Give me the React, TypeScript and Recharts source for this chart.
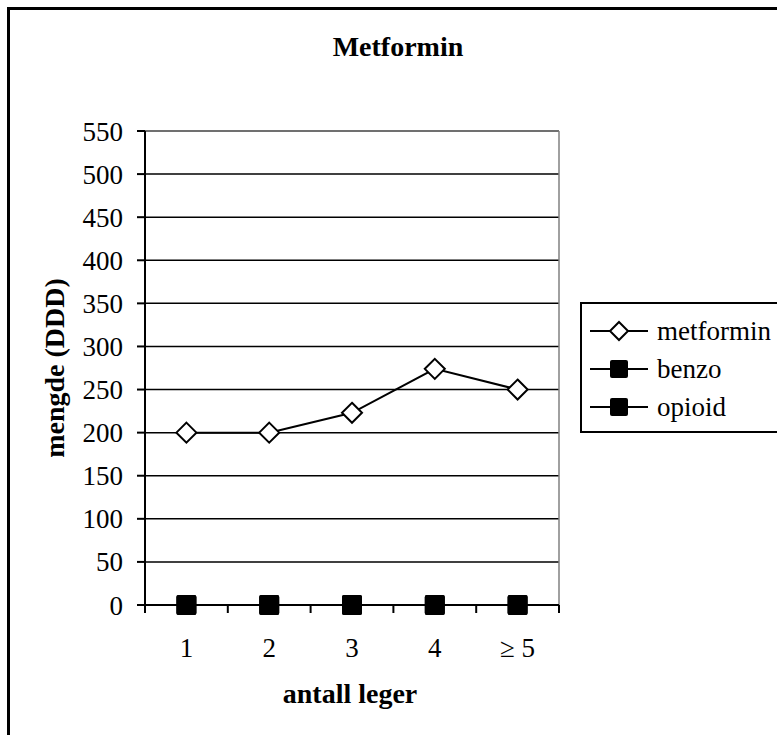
import React from 'react';
import {
  LineChart,
  Line,
  XAxis,
  YAxis,
  CartesianGrid,
  Legend,
  Customized,
} from 'recharts';

const categories = ['1', '2', '3', '4', '≥ 5'];
const metformin = [200, 200, 223, 274, 250];
const benzo = [0, 0, 0, 0, 0];
const opioid = [0, 0, 0, 0, 0];
const yTicks = [0, 50, 100, 150, 200, 250, 300, 350, 400, 450, 500, 550];
const seriesNames = ['metformin', 'benzo', 'opioid'];

const data = categories.map((c, i) => ({
  cat: c,
  metformin: metformin[i],
  benzo: benzo[i],
  opioid: opioid[i],
}));

const FONT = "'Liberation Serif', 'Times New Roman', serif";
const FS = 27;

const Diamond = (props: any) => {
  const { cx, cy, index } = props;
  if (cx == null || cy == null) return <g key={`dn-${index}`} />;
  return (
    <path
      key={`dm-${index}`}
      d={`M${cx},${cy - 10}L${cx + 10},${cy}L${cx},${cy + 10}L${cx - 10},${cy}Z`}
      fill="#fff"
      stroke="#000"
      strokeWidth={2}
    />
  );
};

const Square = (props: any) => {
  const { cx, cy, index, dataKey } = props;
  if (cx == null || cy == null) return <g key={`sn-${dataKey}-${index}`} />;
  return (
    <rect
      key={`sq-${dataKey}-${index}`}
      x={cx - 10}
      y={cy - 10}
      width={20}
      height={20}
      rx={2}
      fill="#000"
    />
  );
};

const XTick = (props: any) => {
  const { x, y, payload, index, visibleTicksCount } = props;
  const off = payload && typeof payload.offset === 'number' ? payload.offset : 0;
  const axisY = y - 33;
  const last = index === (visibleTicksCount ?? categories.length) - 1;
  return (
    <g>
      <line x1={x - off} x2={x - off} y1={axisY} y2={axisY + 8} stroke="#000" strokeWidth={2} />
      {last && (
        <line x1={x + off} x2={x + off} y1={axisY} y2={axisY + 8} stroke="#000" strokeWidth={2} />
      )}
      <text
        x={x}
        y={y}
        dy="0.71em"
        textAnchor="middle"
        fontFamily={FONT}
        fontSize={FS}
        fill="#000"
      >
        {payload.value}
      </text>
    </g>
  );
};

const LegendBox = () => (
  <div
    style={{
      border: '2px solid #000',
      boxSizing: 'border-box',
      height: 131,
      width: 230,
      paddingTop: 8,
      background: '#fff',
      fontFamily: FONT,
    }}
  >
    {seriesNames.map((name, i) => (
      <div key={name} style={{ display: 'flex', alignItems: 'center', height: 38 }}>
        <svg width={58} height={24} style={{ marginLeft: 8, display: 'block' }}>
          <line x1={0} x2={58} y1={12} y2={12} stroke="#000" strokeWidth={2} />
          {i === 0 ? (
            <path d="M29,3L38,12L29,21L20,12Z" fill="#fff" stroke="#000" strokeWidth={2} />
          ) : (
            <rect x={20} y={3} width={18} height={18} rx={2} fill="#000" />
          )}
        </svg>
        <span style={{ marginLeft: 9, fontSize: FS, lineHeight: 1, color: '#000' }}>{name}</span>
      </div>
    ))}
  </div>
);

const boldProps = {
  fontFamily: FONT,
  fontSize: 28,
  fontWeight: 'bold',
  fill: '#000',
  textAnchor: 'middle' as const,
};

const Labels = () => (
  <g>
    <text x={398} y={56} {...boldProps}>
      Metformin
    </text>
    <text x={350} y={703} {...boldProps}>
      antall leger
    </text>
    <text x={64} y={368} transform="rotate(-90 64 368)" {...boldProps}>
      mengde (DDD)
    </text>
  </g>
);

export default function App() {
  return (
    <div
      style={{
        position: 'absolute',
        left: 7,
        top: 7,
        width: 770,
        height: 728,
        borderTop: '3px solid #000',
        borderLeft: '3px solid #000',
        boxSizing: 'border-box',
        overflow: 'hidden',
        background: '#fff',
      }}
    >
      <div style={{ position: 'absolute', left: -10, top: -10 }}>
        <LineChart
          width={777}
          height={735}
          data={data}
          margin={{ top: 131, right: 218, bottom: 70, left: 65 }}
        >
          <CartesianGrid vertical={false} stroke="#000" strokeWidth={1.5} />
          <CartesianGrid
            horizontal={false}
            vertical={true}
            stroke="#808080"
            strokeWidth={1.5}
            verticalCoordinatesGenerator={({ offset }: any) => [offset.left + offset.width]}
          />
          <CartesianGrid
            vertical={false}
            stroke="#808080"
            strokeWidth={1.5}
            horizontalCoordinatesGenerator={({ offset }: any) => [offset.top]}
          />
          <XAxis
            dataKey="cat"
            scale="band"
            height={60}
            tickLine={false}
            tickSize={0}
            tickMargin={33}
            interval={0}
            axisLine={{ stroke: '#000', strokeWidth: 2 }}
            tick={<XTick />}
          />
          <YAxis
            width={80}
            domain={[0, 550]}
            ticks={yTicks}
            interval={0}
            tickSize={8}
            tickMargin={14}
            axisLine={{ stroke: '#000', strokeWidth: 2 }}
            tickLine={{ stroke: '#000', strokeWidth: 2 }}
            tick={{ fontFamily: FONT, fontSize: FS, fill: '#000' }}
          />
          <Legend
            layout="vertical"
            align="center"
            verticalAlign="middle"
            wrapperStyle={{ position: 'absolute', left: 580, top: 302, width: 230 }}
            content={() => <LegendBox />}
          />
          <Line
            dataKey="benzo"
            stroke="#000"
            strokeWidth={2}
            dot={<Square />}
            isAnimationActive={false}
          />
          <Line
            dataKey="opioid"
            stroke="#000"
            strokeWidth={2}
            dot={<Square />}
            isAnimationActive={false}
          />
          <Line
            dataKey="metformin"
            stroke="#000"
            strokeWidth={2}
            dot={<Diamond />}
            isAnimationActive={false}
          />
          <Customized component={Labels} />
        </LineChart>
      </div>
    </div>
  );
}
